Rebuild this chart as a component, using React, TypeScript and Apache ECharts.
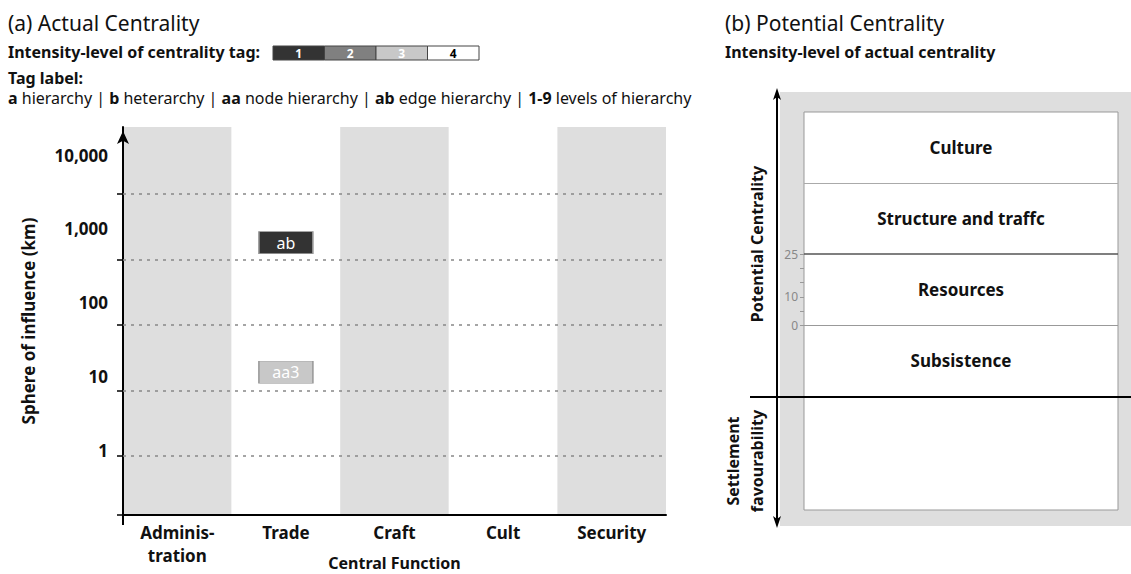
import React, { useEffect, useRef } from 'react';
import * as echarts from 'echarts';

// ---------- data ----------
const categories = ['Adminis-\ntration', 'Trade', 'Craft', 'Cult', 'Security'];
const gridKm = [1, 10, 100, 1000, 10000];
const yTickLabels = ['1', '10', '100', '1,000', '10,000'];
const tagNames = ['ab', 'aa3'];
const tagCategories = ['Trade', 'Trade'];
const tagKm = [1800, 19];
const tagLevels = [1, 3];
const levelLabels = ['1', '2', '3', '4'];
const levelColors = ['#333333', '#808080', '#c8c8c8', '#ffffff'];
const levelTextColors = ['#ffffff', '#ffffff', '#ffffff', '#000000'];
const tagKeys = ['a', 'b', 'aa', 'ab', '1-9'];
const tagDescs = ['hierarchy', 'heterarchy', 'node hierarchy', 'edge hierarchy', 'levels of hierarchy'];

const sectionNames = ['Culture', 'Structure and traffc', 'Resources', 'Subsistence'];
const sectionRanges = [[50, 75], [25, 50], [0, 25], [-25, 0]];
const dividerValues = [50, 25, 0];
const dividerColors = ['#aaaaaa', '#555555', '#999999'];
const potentialTicks = [0, 5, 10, 15, 20, 25];
const potentialLabels = [0, 10, 25];
const favourabilityLine = -25;

const FONT = 'Noto Sans';
const L = { left: 123, right: 666, top: 127, bottom: 515 };

export default function App() {
  const ref = useRef<HTMLDivElement>(null);
  useEffect(() => {
    if (!ref.current) return;
    const chart = echarts.init(ref.current, undefined, { renderer: 'svg' });
    const logMin = -0.9;
    const logMax = 5.02;
    const tagText = tagKeys.map((k, i) => `{b|${k}} ${tagDescs[i]}`).join(' | ');

    const option: any = {
      animation: false,
      backgroundColor: '#ffffff',
      textStyle: { fontFamily: FONT },
      grid: [
        { left: L.left, right: 1131 - L.right, top: L.top, bottom: 574 - L.bottom, outerBoundsMode: 'none', containLabel: false },
        { left: 804, right: 13, top: 112, bottom: 64, show: true, backgroundColor: '#ffffff', borderColor: '#999999', borderWidth: 1, outerBoundsMode: 'none', containLabel: false },
        { left: 750, right: 0, top: 112, bottom: 64, outerBoundsMode: 'none', containLabel: false },
      ],
      xAxis: [
        {
          gridIndex: 0, type: 'category', data: categories, boundaryGap: true,
          axisLine: { onZero: false, lineStyle: { color: '#000', width: 2 } },
          axisTick: { show: false },
          axisLabel: { fontSize: 17, fontWeight: 'bold', color: '#111', lineHeight: 23, margin: 6, interval: 0 },
          splitArea: { show: true, interval: 0, areaStyle: { color: ['#dedede', '#ffffff'] } },
          name: 'Central Function', nameLocation: 'middle', nameGap: 40, nameMoveOverlap: false,
          nameTextStyle: { fontSize: 16, fontWeight: 'bold', color: '#111', verticalAlign: 'top' },
        },
        { gridIndex: 1, type: 'value', min: 0, max: 1, show: false },
        { gridIndex: 2, type: 'value', min: 0, max: 1, show: false },
      ],
      yAxis: [
        {
          gridIndex: 0, type: 'value', min: logMin, max: logMax,
          axisLine: { show: true, onZero: false, lineStyle: { color: '#000', width: 2 }, symbol: ['none', 'arrow'], symbolSize: [9, 13], symbolOffset: [0, -4] },
          axisTick: { show: true, customValues: [logMin, ...gridKm.map((k) => Math.log10(k))], length: 6, lineStyle: { color: '#000', width: 1.5 } },
          axisLabel: { show: false },
          splitLine: { show: false },
          name: 'Sphere of influence (km)', nameLocation: 'middle', nameGap: 86, nameRotate: 90, nameMoveOverlap: false,
          nameTextStyle: { fontSize: 17, fontWeight: 'bold', color: '#111' },
        },
        {
          gridIndex: 0, type: 'value', position: 'left', min: -0.881, max: 4.38,
          axisLine: { show: false }, axisTick: { show: false }, splitLine: { show: false },
          axisLabel: {
            customValues: yTickLabels.map((_, i) => i), margin: 15,
            formatter: (v: number) => yTickLabels[Math.round(v)] ?? '',
            fontSize: 17, fontWeight: 'bold', color: '#111',
          },
        },
        {
          gridIndex: 1, type: 'value', min: -65, max: 75,
          axisLine: { show: false },
          axisTick: { show: true, customValues: potentialTicks, length: 4, lineStyle: { color: '#999', width: 1 } },
          axisLabel: { customValues: potentialLabels, color: '#888', fontSize: 12, margin: 6 },
          splitLine: { show: false },
        },
        { gridIndex: 2, type: 'value', min: -65, max: 75, show: false },
      ],
      series: [
        {
          type: 'scatter', xAxisIndex: 0, yAxisIndex: 0, symbol: 'rect', symbolSize: [54, 22],
          data: tagNames.map((n, i) => ({
            name: n,
            value: [tagCategories[i], Math.log10(tagKm[i])],
            itemStyle: { color: levelColors[tagLevels[i] - 1], borderColor: '#999', borderWidth: 1, opacity: 1 },
            label: { color: levelTextColors[tagLevels[i] - 1] },
          })),
          label: { show: true, position: 'inside', formatter: '{b}', fontSize: 16 },
          z: 5,
          markLine: {
            silent: true, symbol: ['none', 'none'], label: { show: false },
            lineStyle: { type: [3, 5], color: '#888', width: 1.5 },
            data: gridKm.map((k) => ({ yAxis: Math.log10(k) })),
          },
        },
        {
          type: 'line', xAxisIndex: 1, yAxisIndex: 2, data: [],
          markArea: {
            silent: true,
            itemStyle: { color: 'rgba(0,0,0,0)' },
            label: { show: true, position: 'inside', fontSize: 17, fontWeight: 'bold', color: '#111' },
            data: sectionNames.map((n, i) => [{ name: n, yAxis: sectionRanges[i][0] }, { yAxis: sectionRanges[i][1] }]),
          },
          markLine: {
            silent: true, symbol: ['none', 'none'], label: { show: false },
            data: dividerValues.map((v, i) => ({ yAxis: v, lineStyle: { color: dividerColors[i], width: i === 1 ? 1.5 : 1, type: 'solid' } })),
          },
        },
        {
          type: 'line', xAxisIndex: 2, yAxisIndex: 3, data: [],
          markLine: {
            silent: true, symbol: ['none', 'none'], label: { show: false },
            lineStyle: { color: '#000', width: 2, type: 'solid' },
            data: [{ yAxis: favourabilityLine }],
          },
        },
      ],
      graphic: [
        { type: 'rect', z: -10, shape: { x: 780, y: 92, width: 351, height: 434 }, style: { fill: '#dedede' } },
        { type: 'line', z: 10, shape: { x1: L.left, y1: L.bottom, x2: L.left, y2: L.bottom + 10 }, style: { stroke: '#000', lineWidth: 2 } },
        { type: 'line', z: 10, shape: { x1: 777, y1: 95, x2: 777, y2: 521 }, style: { stroke: '#000', lineWidth: 2 } },
        { type: 'polygon', z: 10, shape: { points: [[777, 88], [773, 100], [777, 97], [781, 100]] }, style: { fill: '#000' } },
        { type: 'polygon', z: 10, shape: { points: [[777, 528], [773, 516], [777, 519], [781, 516]] }, style: { fill: '#000' } },
        { type: 'text', x: 8, y: 23, style: { text: '(a) Actual Centrality', fontSize: 21, fontFamily: FONT, fill: '#111', verticalAlign: 'middle' } },
        { type: 'text', x: 8, y: 52, style: { text: 'Intensity-level of centrality tag:', fontSize: 16, fontWeight: 'bold', fontFamily: FONT, fill: '#111', verticalAlign: 'middle' } },
        ...levelLabels.map((lab, i) => ({
          type: 'rect', shape: { x: 273 + i * 51.5, y: 46, width: 51.5, height: 14 },
          style: { fill: levelColors[i], stroke: '#444', lineWidth: 1 },
        })),
        ...levelLabels.map((lab, i) => ({
          type: 'text', x: 273 + i * 51.5 + 25.75, y: 53,
          style: { text: lab, fontSize: 12, fontWeight: 'bold', fontFamily: FONT, fill: levelTextColors[i], align: 'center', verticalAlign: 'middle' },
        })),
        { type: 'text', x: 8, y: 78, style: { text: 'Tag label:', fontSize: 16, fontWeight: 'bold', fontFamily: FONT, fill: '#111', verticalAlign: 'middle' } },
        {
          type: 'text', x: 8, y: 98,
          style: {
            text: tagText, fontSize: 16, fontFamily: FONT, fill: '#111', verticalAlign: 'middle',
            rich: { b: { fontWeight: 'bold', fontSize: 16, fontFamily: FONT, fill: '#111' } },
          },
        },
        { type: 'text', x: 725, y: 23, style: { text: '(b) Potential Centrality', fontSize: 21, fontFamily: FONT, fill: '#111', verticalAlign: 'middle' } },
        { type: 'text', x: 725, y: 52, style: { text: 'Intensity-level of actual centrality', fontSize: 16, fontWeight: 'bold', fontFamily: FONT, fill: '#111', verticalAlign: 'middle' } },
        { type: 'text', x: 757, y: 244, rotation: Math.PI / 2, style: { text: 'Potential Centrality', fontSize: 16, fontWeight: 'bold', fontFamily: FONT, fill: '#111', align: 'center', verticalAlign: 'middle' } },
        { type: 'text', x: 745, y: 461, rotation: Math.PI / 2, style: { text: 'Settlement\nfavourability', fontSize: 16, fontWeight: 'bold', fontFamily: FONT, fill: '#111', align: 'center', verticalAlign: 'middle', lineHeight: 24 } },
      ],
    };
    chart.setOption(option);
    return () => chart.dispose();
  }, []);
  return <div ref={ref} style={{ position: 'absolute', left: 0, top: 0, width: 1131, height: 574 }} />;
}
